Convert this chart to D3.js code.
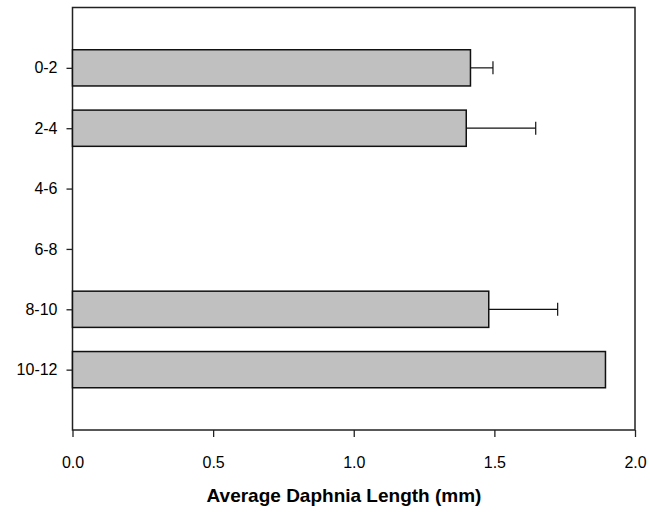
<!DOCTYPE html>
<html>
<head>
<meta charset="utf-8">
<script src="https://cdn.jsdelivr.net/npm/d3@7"></script>
<style>
  html, body { margin: 0; padding: 0; background: #fff; }
  svg { display: block; font-family: "Liberation Sans", Arial, sans-serif; }
</style>
</head>
<body>
<svg id="chart" width="650" height="512"></svg>
<script>
const categories = ["0-2", "2-4", "4-6", "6-8", "8-10", "10-12"];
const values = [1.415, 1.40, null, null, 1.48, 1.895];
const errors = [0.08, 0.247, null, null, 0.245, null];
const xTicks = [0, 0.5, 1.0, 1.5, 2.0];
const xTitle = "Average Daphnia Length (mm)";

(function () {
const svg = d3.select("#chart");
const mLeft = 72.5, mRight = 635, mTop = 7.5, mBottom = 430;

const x = d3.scaleLinear().domain([0, 2]).range([mLeft, mRight]);
const yPos = d3.scaleLinear().domain([0, categories.length + 1]).range([mTop, mBottom]);
const step = yPos(1) - yPos(0);
const barH = step * 0.6;

const data = categories.map((c, i) => ({ c, i, v: values[i], e: errors[i] }));

// plot frame
svg.append("rect")
  .attr("x", mLeft).attr("y", mTop)
  .attr("width", mRight - mLeft).attr("height", mBottom - mTop)
  .attr("fill", "none").attr("stroke", "#222").attr("stroke-width", 1.5);

// bars
svg.append("g").selectAll("rect")
  .data(data.filter(d => d.v != null))
  .join("rect")
  .attr("x", x(0))
  .attr("y", d => yPos(d.i + 1) - barH / 2)
  .attr("width", d => x(d.v) - x(0))
  .attr("height", barH)
  .attr("fill", "#c0c0c0")
  .attr("stroke", "#111")
  .attr("stroke-width", 1.5);

// error bars
const eb = svg.append("g").selectAll("g")
  .data(data.filter(d => d.v != null && d.e != null))
  .join("g");
eb.append("line")
  .attr("x1", d => x(d.v)).attr("x2", d => x(d.v + d.e))
  .attr("y1", d => yPos(d.i + 1)).attr("y2", d => yPos(d.i + 1))
  .attr("stroke", "#111").attr("stroke-width", 1.2);
eb.append("line")
  .attr("x1", d => x(d.v + d.e)).attr("x2", d => x(d.v + d.e))
  .attr("y1", d => yPos(d.i + 1) - 6.5).attr("y2", d => yPos(d.i + 1) + 6.5)
  .attr("stroke", "#111").attr("stroke-width", 1.2);

// x axis
const xAxis = d3.axisBottom(x).tickValues(xTicks).tickFormat(d3.format(".1f")).tickSize(7).tickPadding(20);
const gx = svg.append("g").attr("transform", `translate(0,${mBottom})`).call(xAxis);
gx.select(".domain").remove();
gx.selectAll(".tick line").attr("stroke", "#222").attr("stroke-width", 1.3);
gx.selectAll(".tick text").attr("fill", "#000").style("font-size", "16px")
  .style("font-family", "'Liberation Sans', Arial, sans-serif");

// y axis (categorical)
const yAxis = d3.axisLeft(d3.scalePoint().domain(categories).range([yPos(1), yPos(categories.length)]))
  .tickSize(6).tickPadding(9);
const gy = svg.append("g").attr("transform", `translate(${mLeft},0)`).call(yAxis);
gy.select(".domain").remove();
gy.selectAll(".tick line").attr("stroke", "#222").attr("stroke-width", 1.3);
gy.selectAll(".tick text").attr("fill", "#000").style("font-size", "16px")
  .style("font-family", "'Liberation Sans', Arial, sans-serif");

// x title
svg.append("text")
  .attr("x", 344).attr("y", 502)
  .attr("text-anchor", "middle")
  .style("font-size", "19px").style("font-weight", "bold")
  .text(xTitle);
})();
</script>
</body>
</html>
